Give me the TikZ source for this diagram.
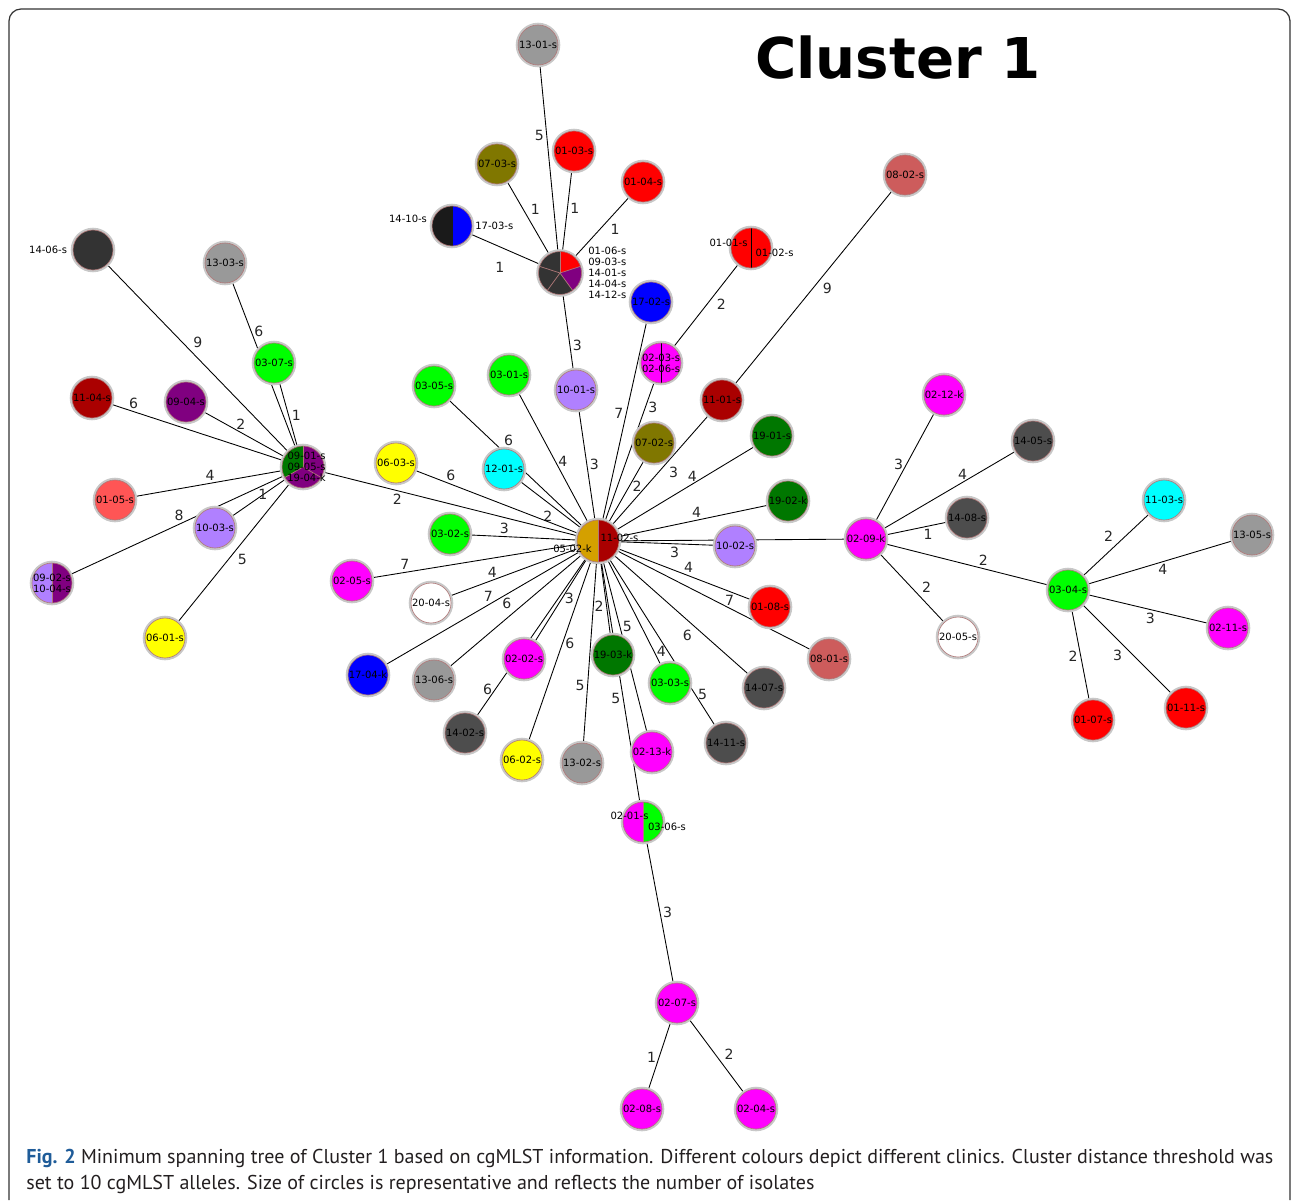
\documentclass[tikz,border=0pt]{standalone}
\usepackage{fontspec}
\usepackage{tikz}
\usetikzlibrary{backgrounds}

\setmainfont{DejaVu Sans}
\newfontfamily\capfont{PT Sans}
\newcommand{\isofont}{\fontsize{5.7pt}{6.2pt}\selectfont}
\newcommand{\wtfont}{\fontsize{8pt}{9pt}\selectfont}

% clinic colours
\definecolor{cmag}{HTML}{FF00FF}
\definecolor{cred}{HTML}{FF0000}
\definecolor{cdred}{HTML}{AA0000}
\definecolor{cgreen}{HTML}{00FF00}
\definecolor{cdgreen}{HTML}{007700}
\definecolor{colive}{HTML}{807700}
\definecolor{clav}{HTML}{B080FF}
\definecolor{ccyan}{HTML}{00FFFF}
\definecolor{cblue}{HTML}{0000FF}
\definecolor{cyellow}{HTML}{FFFF00}
\definecolor{cgrey}{HTML}{999999}
\definecolor{cdgrey}{HTML}{4D4D4D}
\definecolor{cblack}{HTML}{333333}
\definecolor{cnight}{HTML}{1A1A1A}
\definecolor{cindian}{HTML}{CD5C5C}
\definecolor{csalmon}{HTML}{FF5555}
\definecolor{cpurple}{HTML}{800080}
\definecolor{cgold}{HTML}{D4A000}
% outline colours
\definecolor{rimc}{HTML}{B07878}
\definecolor{haloc}{HTML}{C8C8C8}
\definecolor{framec}{HTML}{333333}
\definecolor{figblue}{HTML}{1F5C99}
\definecolor{capc}{HTML}{231F20}

\tikzset{
  iso/.style={circle, minimum size=0.8cm, inner sep=0pt, fill=#1, draw=rimc,
    line width=0.35pt, preaction={draw=haloc, line width=2.6pt}, font=\isofont},
  halves/.style n args={3}{iso=#1, path picture={
    \fill[#2] (path picture bounding box.south) rectangle (path picture bounding box.north east);
    \draw[#3, line width=0.5pt] (path picture bounding box.south) -- (path picture bounding box.north);}},
  tripie/.style={iso=cpurple, minimum size=0.84cm, path picture={
    \fill[cdgreen] (path picture bounding box.center) -- +(90:1cm)
      arc[start angle=90, end angle=210, radius=1cm] -- cycle;
    \foreach \a in {90,210,330}
      \draw[rimc, line width=0.4pt] (path picture bounding box.center) -- +(\a:1cm);}},
  pentapie/.style={iso=cblack, minimum size=0.86cm, path picture={
    \fill[cred] (path picture bounding box.center) -- +(18:1cm)
      arc[start angle=18, end angle=90, radius=1cm] -- cycle;
    \fill[cpurple] (path picture bounding box.center) -- +(-54:1cm)
      arc[start angle=-54, end angle=18, radius=1cm] -- cycle;
    \foreach \a in {90,18,-54,-126,162}
      \draw[rimc, line width=0.4pt] (path picture bounding box.center) -- +(\a:1cm);}},
  lbl/.style={font=\isofont, inner sep=0.5pt},
  edge/.style={draw=black, line width=0.5pt},
  wt/.style={font=\wtfont, inner sep=1.5pt, text=black!85}
}

\begin{document}
\begin{tikzpicture}[x=0.02cm, y=-0.02cm]
    \useasboundingbox (0,0) rectangle (1293,1200);

    % the frame and title
    \draw[framec, line width=0.7pt, rounded corners=0.24cm] (9,1200) -- (9,9) -- (1290,9) -- (1290,1200);
    \node[font=\bfseries\fontsize{32pt}{36pt}\selectfont] (title) at (898,58) {Cluster 1};

    % upper tuft
    \node[iso=cgrey] (n1301) at (538,45) {13-01-s};
    \node[iso=cred] (n0103) at (574,151) {01-03-s};
    \node[iso=colive] (n0703) at (497,164) {07-03-s};
    \node[iso=cred] (n0104) at (643,182) {01-04-s};
    \node[pentapie, label={[lbl, align=left, xshift=3pt]east:01-06-s\\09-03-s\\14-01-s\\14-04-s\\14-12-s}] (n0106) at (560,273) {};
    \node[halves={cnight}{cblue}{cnight}, label={[lbl, xshift=-2pt, yshift=4pt]west:14-10-s},
      label={[lbl, xshift=1pt]east:17-03-s}] (n1410) at (452,226) {};
    \node[iso=cblue] (n1702) at (651,302) {17-02-s};
    \node[halves={cred}{cred}{black}, label={[lbl, xshift=-0.45cm, yshift=0.1cm]center:01-01-s},
      label={[lbl, xshift=0.47cm, yshift=-0.1cm]center:01-02-s}] (n0101) at (751,248) {};
    \node[iso=cindian] (n0802) at (905,175) {08-02-s};
    \node[halves={cmag}{cmag}{black}, label={[lbl, align=center]center:02-03-s\\02-06-s}] (n0203) at (661,363) {};
    \node[iso=cdred] (n1101) at (722,400) {11-01-s};
    \node[iso=clav] (n1001) at (576,390) {10-01-s};
    \node[iso=cgreen] (n0305) at (434,386) {03-05-s};
    \node[iso=cgreen] (n0301) at (509,375) {03-01-s};
    \node[iso=colive] (n0702) at (654,443) {07-02-s};
    \node[iso=cdgreen] (n1901) at (772,436) {19-01-s};
    \node[iso=cyellow] (n0603) at (396,463) {06-03-s};
    \node[iso=ccyan] (n1201) at (504,469) {12-01-s};
    \node[iso=cdgreen] (n1902) at (788,501) {19-02-k};

    % central hub
    \node[halves={cgold}{cdred}{rimc}, minimum size=0.84cm,
      label={[lbl, xshift=0.43cm, yshift=0.06cm]center:11-02-s},
      label={[lbl, xshift=-0.51cm, yshift=-0.16cm]center:05-02-k}] (n1102) at (598,541) {};
    \node[iso=cgreen] (n0302) at (450,534) {03-02-s};
    \node[iso=clav] (n1002) at (735,546) {10-02-s};
    \node[iso=cmag] (n0205) at (352,581) {02-05-s};
    \node[iso=white] (n2004) at (431,603) {20-04-s};
    \node[iso=cred] (n0108) at (770,607) {01-08-s};
    \node[iso=cindian] (n0801) at (829,659) {08-01-s};
    \node[iso=cblue] (n1704) at (368,675) {17-04-k};
    \node[iso=cgrey] (n1306) at (434,680) {13-06-s};
    \node[iso=cmag] (n0202) at (524,659) {02-02-s};
    \node[iso=cdgreen] (n1903) at (613,655) {19-03-k};
    \node[iso=cgreen] (n0303) at (670,683) {03-03-s};
    \node[iso=cdgrey] (n1407) at (764,688) {14-07-s};
    \node[iso=cdgrey] (n1402) at (465,733) {14-02-s};
    \node[iso=cyellow] (n0602) at (522,760) {06-02-s};
    \node[iso=cgrey] (n1302) at (582,763) {13-02-s};
    \node[iso=cmag] (n0213) at (652,752) {02-13-k};
    \node[iso=cdgrey] (n1411) at (726,743) {14-11-s};

    % lower chain
    \node[halves={cmag}{cgreen}{rimc}, label={[lbl, xshift=-0.27cm, yshift=0.12cm]center:02-01-s},
      label={[lbl, xshift=0.48cm, yshift=-0.1cm]center:03-06-s}] (n0201) at (643,822) {};
    \node[iso=cmag] (n0207) at (677,1003) {02-07-s};
    \node[iso=cmag] (n0208) at (642,1109) {02-08-s};
    \node[iso=cmag] (n0204) at (756,1109) {02-04-s};

    % left hub
    \node[tripie, label={[lbl, align=center, xshift=2pt]center:09-01-s\\09-05-s\\19-04-k}] (n0901) at (303,467) {};
    \node[iso=cblack, label={[lbl, xshift=-2.5pt]west:14-06-s}] (n1406) at (93,250) {};
    \node[iso=cgrey] (n1303) at (225,263) {13-03-s};
    \node[iso=cgreen] (n0307) at (274,363) {03-07-s};
    \node[iso=cdred] (n1104) at (92,398) {11-04-s};
    \node[iso=cpurple] (n0904) at (186,402) {09-04-s};
    \node[iso=csalmon] (n0105) at (115,500) {01-05-s};
    \node[iso=clav] (n1003) at (215,528) {10-03-s};
    \node[halves={clav}{cpurple}{rimc}, label={[lbl, align=center]center:09-02-s\\10-04-s}] (n0902) at (52,583) {};
    \node[iso=cyellow] (n0601) at (165,638) {06-01-s};

    % right hubs
    \node[iso=cmag] (n0209) at (866,539) {02-09-k};
    \node[iso=cmag] (n0212) at (944,395) {02-12-k};
    \node[iso=cdgrey] (n1405) at (1033,441) {14-05-s};
    \node[iso=cdgrey] (n1408) at (967,518) {14-08-s};
    \node[iso=white] (n2005) at (958,637) {20-05-s};
    \node[iso=cgreen] (n0304) at (1068,590) {03-04-s};
    \node[iso=ccyan] (n1103) at (1164,500) {11-03-s};
    \node[iso=cgrey] (n1305) at (1252,535) {13-05-s};
    \node[iso=cmag] (n0211) at (1228,628) {02-11-s};
    \node[iso=cred] (n0111) at (1186,708) {01-11-s};
    \node[iso=cred] (n0107) at (1093,720) {01-07-s};

    % the tree edges, behind the circles
    \begin{scope}[on background layer]
    \draw[edge] (n1301) -- node[wt, pos=.38, left] {5} (n0106);
    \draw[edge] (n0103) -- node[wt, pos=.47, right] {1} (n0106);
    \draw[edge] (n0703) -- node[wt, pos=.49, above right] {1} (n0106);
    \draw[edge] (n0104) -- node[wt, pos=.4, below right] {1} (n0106);
    \draw[edge] (n1410) -- node[wt, pos=.42, below=7pt] {1} (n0106);
    \draw[edge] (n0106) -- node[wt, pos=.67, right] {3} (n1001);
    \draw[edge] (n1001) -- node[wt, pos=.49, right] {3} (n1102);
    \draw[edge] (n1702) -- node[wt, pos=.46, left] {7} (n1102);
    \draw[edge] (n0101) -- node[wt, pos=.38, below right] {2} (n0203);
    \draw[edge] (n0203) -- node[wt, pos=.18, right] {3} (n1102);
    \draw[edge] (n0802) -- node[wt, pos=.46, below right] {9} (n1101);
    \draw[edge] (n1101) -- node[wt, pos=.44, below right] {3} (n1102);
    \draw[edge] (n0702) -- node[wt, pos=.41, right] {2} (n1102);
    \draw[edge] (n1901) -- node[wt, pos=.45, above] {4} (n1102);
    \draw[edge] (n1902) -- node[wt, pos=.48, above] {4} (n1102);
    \draw[edge] (n1002) -- node[wt, pos=.42, below] {3} (n1102);
    \draw[edge] (n1102) -- (n0209);
    \draw[edge] (n0305) -- node[wt, pos=.39, above right] {6} (n1102);
    \draw[edge] (n1201) -- node[wt, pos=.58, below left] {2} (n1102);
    \draw[edge] (n0301) -- node[wt, pos=.53, right] {4} (n1102);
    \draw[edge] (n0603) -- node[wt, pos=.22, above] {6} (n1102);
    \draw[edge] (n0901) -- node[wt, pos=.29, below] {2} (n1102);
    \draw[edge] (n0302) -- node[wt, pos=.32, above] {3} (n1102);
    \draw[edge] (n0205) -- node[wt, pos=.16, above] {7} (n1102);
    \draw[edge] (n2004) -- node[wt, pos=.33, above] {4} (n1102);
    \draw[edge] (n1704) -- node[wt, pos=.53, above] {7} (n1102);
    \draw[edge] (n1306) -- node[wt, pos=.49, above left] {6} (n1102);
    \draw[edge] (n1402) -- node[wt, pos=.17, left] {6} (n1102);
    \draw[edge] (n0202) -- node[wt, pos=.52, right] {3} (n1102);
    \draw[edge] (n0602) -- node[wt, pos=.54, right] {6} (n1102);
    \draw[edge] (n1302) -- node[wt, pos=.32, left] {5} (n1102);
    \draw[edge] (n1903) -- node[wt, pos=.39, left] {2} (n1102);
    \draw[edge] (n0213) -- node[wt, pos=.62, right] {5} (n1102);
    \draw[edge] (n0201) -- node[wt, pos=.43, left] {5} (n1102);
    \draw[edge] (n0303) -- node[wt, pos=.13, right] {4} (n1102);
    \draw[edge] (n1411) -- node[wt, pos=.19, right] {5} (n1102);
    \draw[edge] (n1407) -- node[wt, pos=.4, below left] {6} (n1102);
    \draw[edge] (n0108) -- node[wt, pos=.47, above] {4} (n1102);
    \draw[edge] (n0801) -- node[wt, pos=.42, above] {7} (n1102);
    \draw[edge] (n0201) -- node[wt, pos=.5, right] {3} (n0207);
    \draw[edge] (n0207) -- node[wt, pos=.52, left] {1} (n0208);
    \draw[edge] (n0207) -- node[wt, pos=.59, above right] {2} (n0204);
    \draw[edge] (n1406) -- node[wt, pos=.46, above right] {9} (n0901);
    \draw[edge] (n1303) -- node[wt, pos=.3, right] {6} (n0901);
    \draw[edge] (n0307) -- node[wt, pos=.52, right] {1} (n0901);
    \draw[edge] (n1104) -- node[wt, pos=.13, above] {6} (n0901);
    \draw[edge] (n0904) -- node[wt, pos=.46, above] {2} (n0901);
    \draw[edge] (n0105) -- node[wt, pos=.51, above] {4} (n0901);
    \draw[edge] (n1003) -- node[wt, pos=.58] {1} (n0901);
    \draw[edge] (n0902) -- node[wt, pos=.51, above] {8} (n0901);
    \draw[edge] (n0601) -- node[wt, pos=.51, below right] {5} (n0901);
    \draw[edge] (n0212) -- node[wt, pos=.48, left] {3} (n0209);
    \draw[edge] (n1405) -- node[wt, pos=.4, above] {4} (n0209);
    \draw[edge] (n1408) -- node[wt, pos=.31, below] {1} (n0209);
    \draw[edge] (n2005) -- node[wt, pos=.39, above right] {2} (n0209);
    \draw[edge] (n0209) -- node[wt, pos=.6, above] {2} (n0304);
    \draw[edge] (n1103) -- node[wt, pos=.5, above left] {2} (n0304);
    \draw[edge] (n1305) -- node[wt, pos=.48, below] {4} (n0304);
    \draw[edge] (n0211) -- node[wt, pos=.48, below] {3} (n0304);
    \draw[edge] (n0111) -- node[wt, pos=.52, below left] {3} (n0304);
    \draw[edge] (n0107) -- node[wt, pos=.49, left] {2} (n0304);
    \end{scope}

    % caption
    \node[anchor=north west, align=left, inner sep=0pt, text=capc,
      font=\capfont\fontsize{11.4pt}{14.7pt}\selectfont] (caption) at (26,1149)
      {{\color{figblue}\bfseries Fig. 2} Minimum spanning tree of Cluster 1 based on cgMLST information. Different colours depict different clinics. Cluster distance threshold was\\
       set to 10 cgMLST alleles. Size of circles is representative and reflects the number of isolates};
\end{tikzpicture}
\end{document}
